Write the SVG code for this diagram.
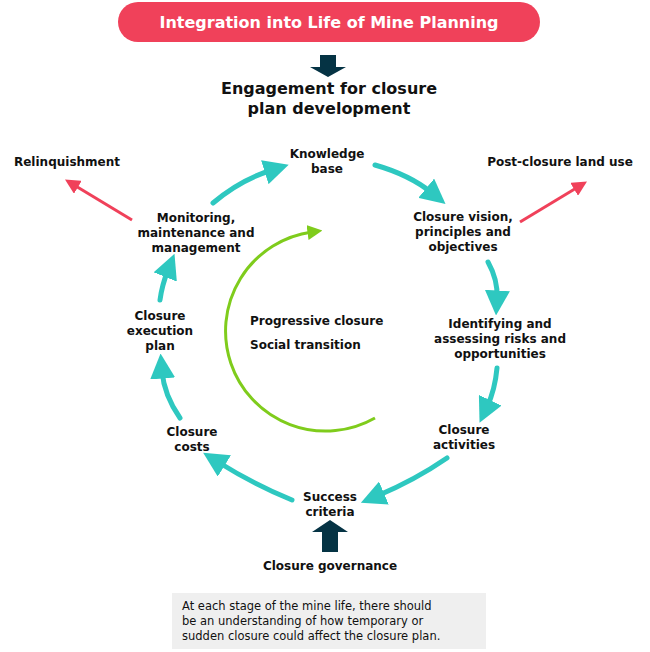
<svg xmlns="http://www.w3.org/2000/svg" width="650" height="652" viewBox="0 0 650 652">
<style>
text{font-family:"DejaVu Sans",Verdana,sans-serif;font-weight:bold;font-size:12px;fill:#111;text-anchor:middle}
.t{fill:none;stroke:#2ec8c0;stroke-width:5;stroke-linecap:round}
.r{fill:none;stroke:#f0415a;stroke-width:3}
</style>
<defs>
<marker id="mt" viewBox="0 0 10 10" refX="3" refY="5" markerWidth="5" markerHeight="5" markerUnits="strokeWidth" orient="auto"><path d="M0,0L10,5L0,10z" fill="#2ec8c0"/></marker>
<marker id="mr" viewBox="0 0 10 10" refX="3" refY="5" markerWidth="5" markerHeight="5" markerUnits="strokeWidth" orient="auto"><path d="M0,0L10,5L0,10z" fill="#f0415a"/></marker>
<marker id="mg" viewBox="0 0 10 10" refX="3" refY="5" markerWidth="5" markerHeight="5" markerUnits="strokeWidth" orient="auto"><path d="M0,0L10,5L0,10z" fill="#7fcc1c"/></marker>
</defs>
<g id="top"><rect x="118" y="2" width="422" height="40" rx="20" fill="#f0415a"/><text x="329" y="28" style="fill:#fff;font-size:16px">Integration into Life of Mine Planning</text></g>
<g id="engagement"><text x="329" y="94" style="font-size:16px">Engagement for closure</text><text x="329" y="114" style="font-size:16px">plan development</text></g>
<g id="connectors">
<path d="M320,55h16v12h10l-18,10l-18-10h10z" fill="#053344"/>
<path d="M322,552v-20h-10l18-12l18,12h-10v20z" fill="#053344"/>
<path class="t" d="M375,165Q410,175 432,193" marker-end="url(#mt)"/>
<path class="t" d="M213,203Q240,180 272,170" marker-end="url(#mt)"/>
<path class="t" d="M488,262Q498,280 497,298" marker-end="url(#mt)"/>
<path class="t" d="M497,368Q495,390 487,407" marker-end="url(#mt)"/>
<path class="t" d="M447,458Q415,480 377,496" marker-end="url(#mt)"/>
<path class="t" d="M292,500Q255,485 218,462" marker-end="url(#mt)"/>
<path class="t" d="M180,418Q164,395 162,371" marker-end="url(#mt)"/>
<path class="t" d="M160,300Q162,285 168,270" marker-end="url(#mt)"/>
<path class="r" d="M132,220L74,185" marker-end="url(#mr)"/>
<path class="r" d="M520,222L578,187" marker-end="url(#mr)"/>
<path d="M375,418A100,100 0 1 1 312,232" fill="none" stroke="#7fcc1c" stroke-width="3" marker-end="url(#mg)"/>
</g>
<g id="n1"><text x="327" y="158">Knowledge</text><text x="327" y="173">base</text></g>
<g id="n2"><text x="463" y="221">Closure vision,</text><text x="463" y="236">principles and</text><text x="463" y="251">objectives</text></g>
<g id="n3"><text x="500" y="328">Identifying and</text><text x="500" y="343">assessing risks and</text><text x="500" y="358">opportunities</text></g>
<g id="n4"><text x="464" y="434">Closure</text><text x="464" y="449">activities</text></g>
<g id="n5"><text x="330" y="501">Success</text><text x="330" y="516">criteria</text></g>
<g id="n6"><text x="192" y="436">Closure</text><text x="192" y="451">costs</text></g>
<g id="n7"><text x="160" y="320">Closure</text><text x="160" y="335">execution</text><text x="160" y="350">plan</text></g>
<g id="n8"><text x="196" y="222">Monitoring,</text><text x="196" y="237">maintenance and</text><text x="196" y="252">management</text></g>
<g id="n9"><text x="67" y="166">Relinquishment</text></g>
<g id="n10"><text x="560" y="166">Post-closure land use</text></g>
<g id="center"><text x="250" y="325" style="text-anchor:start">Progressive closure</text><text x="250" y="349" style="text-anchor:start">Social transition</text></g>
<g id="gov"><text x="330" y="570">Closure governance</text></g>
<g id="note"><rect x="172" y="593" width="314" height="56" fill="#efefef"/>
<text x="182" y="610" style="text-anchor:start;font-weight:normal;font-size:11.5px">At each stage of the mine life, there should</text>
<text x="182" y="625" style="text-anchor:start;font-weight:normal;font-size:11.5px">be an understanding of how temporary or</text>
<text x="182" y="640" style="text-anchor:start;font-weight:normal;font-size:11.5px">sudden closure could affect the closure plan.</text></g>
</svg>
